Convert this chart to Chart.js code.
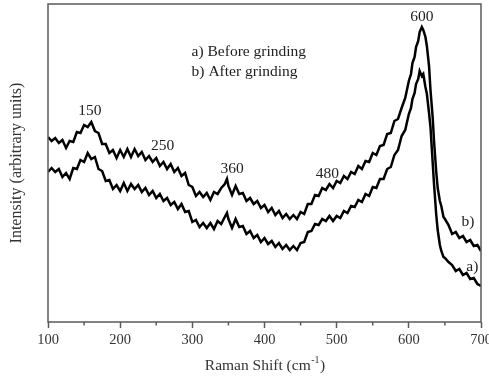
<!DOCTYPE html>
<html>
<head>
<meta charset="utf-8">
<script src="https://cdn.jsdelivr.net/npm/chart.js@4.4.1/dist/chart.umd.min.js"></script>
<style>
  body { margin: 0; background: #fff; }
  canvas { display: block; }
</style>
</head>
<body>
<canvas id="raman" width="489" height="376"></canvas>
<script>
// Raman shift (cm-1), shared by both spectra
const ramanShift = [
  100,105,110,115,120,125,130,135,140,145,150,155,160,165,170,175,180,185,190,195,
  200,205,210,215,220,225,230,235,240,245,250,255,260,265,270,275,280,285,290,295,
  300,305,310,315,320,325,330,335,340,345,348,
  350,355,360,365,370,375,380,385,390,395,400,405,410,415,420,425,430,435,440,445,
  450,455,460,465,470,475,480,485,490,495,500,505,510,515,520,525,530,535,540,545,
  550,555,560,565,570,575,580,585,590,595,
  600,603,605,608,610,613,615,618,620,623,625,628,630,633,635,638,640,643,645,648,650,
  655,660,665,670,675,680,685,690,695,700
]

// b) after grinding (upper trace), arbitrary units
const intensityAfter = [
  185,181,184,179,182,174,181,180,190,189,197,195,200,191,189,178,178,169,172,164,
  172,165,173,165,173,166,170,162,166,160,164,156,160,153,158,150,154,146,149,137,
  135,126,130,125,129,122,130,128,134,138,143,
  136,127,136,128,129,121,124,118,121,114,117,110,114,107,111,104,108,103,107,103,
  110,108,118,118,127,126,134,132,138,134,141,139,146,143,150,148,156,153,161,160,
  169,167,176,177,188,189,201,203,214,224,
  241,248,259,265,275,281,290,295,292,285,276,256,232,205,180,150,134,121,116,105,103,
  97,88,90,84,86,80,82,76,77,71
]

// a) before grinding (lower trace), arbitrary units
const intensityBefore = [
  150,154,150,153,145,149,143,154,153,162,160,169,163,165,153,151,141,142,133,137,
  131,139,131,138,133,137,130,134,127,131,124,128,121,124,117,120,113,118,110,111,
  100,102,95,99,94,99,93,101,98,105,109,
  103,94,103,95,96,88,91,84,87,80,84,78,81,75,79,73,77,72,76,72,
  79,80,90,91,98,97,103,101,106,101,106,104,111,109,116,115,122,120,128,126,
  135,134,143,143,153,155,167,172,186,192,
  208,214,223,229,238,243,251,246,248,235,228,209,195,160,137,107,92,77,71,65,64,
  60,57,51,53,47,49,43,44,38,36
]

// text notes placed in data coordinates
const noteText = ["150", "250", "360", "480", "600", "a) Before grinding", "b) After grinding", "b)", "a)"]
const noteShift = [158, 259, 355, 487, 618, 299, 299, 682, 688]
const noteIntensity = [211, 176, 153, 148, 305, 270, 250, 100, 55]

const serif = "'Liberation Serif', 'Times New Roman', serif"
const frameColor = "#5a5a5a"

const toPoints = (ys) => ramanShift.map((x, i) => ({ x: x, y: ys[i] }))

const framePlugin = {
  id: "frame",
  afterDraw(chart) {
    const { ctx, chartArea: a, scales } = chart
    ctx.save()
    ctx.strokeStyle = frameColor
    ctx.lineWidth = 1.5
    ctx.strokeRect(a.left, a.top, a.right - a.left, a.bottom - a.top)

    // minor ticks half way between the labelled ones
    const xs = scales.x
    for (let i = 0; i < xs.ticks.length - 1; i++) {
      const mid = (xs.ticks[i].value + xs.ticks[i + 1].value) / 2
      const px = xs.getPixelForValue(mid)
      ctx.beginPath()
      ctx.moveTo(px, a.bottom)
      ctx.lineTo(px, a.bottom + 3.5)
      ctx.stroke()
    }

    // notes
    ctx.fillStyle = "#222"
    ctx.font = "15.5px " + serif
    ctx.textBaseline = "middle"
    noteText.forEach((t, i) => {
      ctx.textAlign = t.length > 4 ? "left" : "center"
      ctx.fillText(t, xs.getPixelForValue(noteShift[i]), scales.y.getPixelForValue(noteIntensity[i]))
    })

    // x axis title with superscript
    const main = "Raman Shift (cm", sup = "-1", end = ")"
    ctx.fillStyle = "#333"
    ctx.font = "15.5px " + serif
    const w1 = ctx.measureText(main).width
    const w3 = ctx.measureText(end).width
    ctx.font = "10px " + serif
    const w2 = ctx.measureText(sup).width
    let x0 = (a.left + a.right) / 2 - (w1 + w2 + w3) / 2
    const ty = 366
    ctx.textAlign = "left"
    ctx.font = "15.5px " + serif
    ctx.fillText(main, x0, ty)
    ctx.font = "10px " + serif
    ctx.fillText(sup, x0 + w1 + 0.5, ty - 6)
    ctx.font = "15.5px " + serif
    ctx.fillText(end, x0 + w1 + w2 + 1, ty)
    ctx.restore()
  }
}

new Chart(document.getElementById("raman").getContext("2d"), {
  type: "line",
  data: {
    datasets: [{
      label: "a) Before grinding",
      data: toPoints(intensityBefore),
      borderColor: "#000",
      borderWidth: 2.5,
      pointRadius: 0,
      tension: 0
    }, {
      label: "b) After grinding",
      data: toPoints(intensityAfter),
      borderColor: "#000",
      borderWidth: 2.5,
      pointRadius: 0,
      tension: 0
    }]
  },
  options: {
    responsive: false,
    animation: false,
    layout: { padding: { top: 4, right: 8, left: 0, bottom: 0 } },
    plugins: { legend: { display: false }, tooltip: { enabled: false } },
    scales: {
      x: {
        type: "linear",
        min: 100,
        max: 700,
        border: { display: false },
        grid: { drawOnChartArea: false, tickLength: 6, tickColor: frameColor, tickWidth: 1.5 },
        ticks: { stepSize: 100, color: "#333", font: { family: serif, size: 14.5 }, maxRotation: 0 },
        afterFit: (s) => { s.height = 54; s.paddingLeft = 0; s.paddingRight = 0 }
      },
      y: {
        min: 0,
        max: 318,
        border: { display: false },
        grid: { display: false },
        ticks: { display: false },
        title: {
          display: true,
          text: "Intensity (arbitrary units)",
          color: "#333",
          font: { family: serif, size: 16 },
          padding: { top: 7, bottom: 0 }
        },
        afterFit: (s) => { s.width = 48 }
      }
    }
  },
  plugins: [framePlugin]
})
</script>
</body>
</html>
